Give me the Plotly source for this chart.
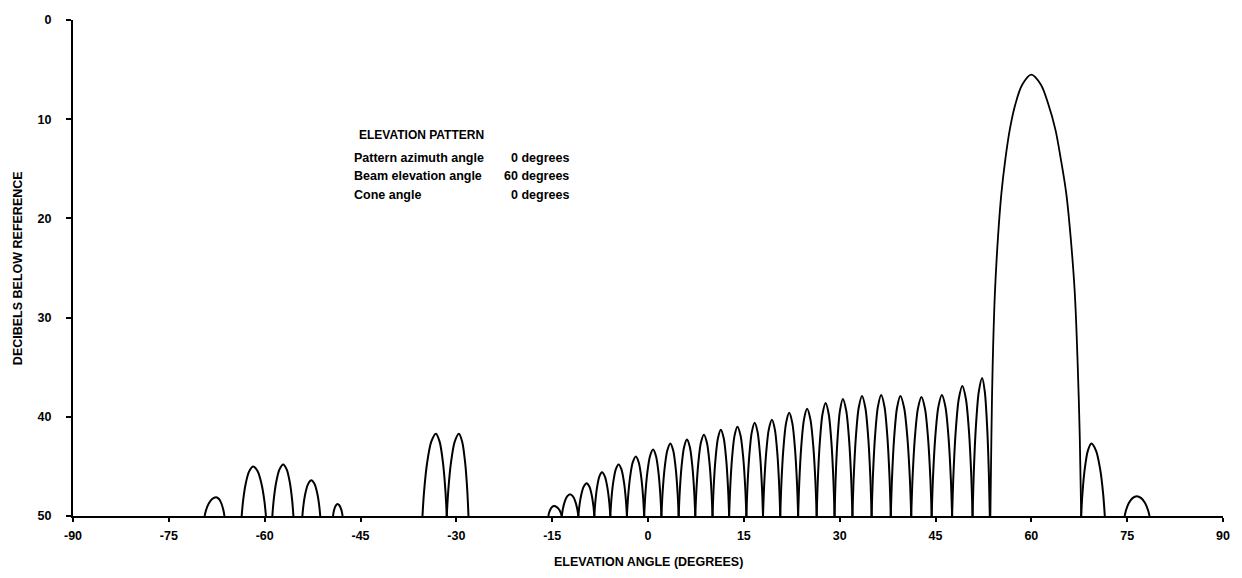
import plotly.graph_objects as go

# ---- data (angle in degrees, level in dB below reference) ----
# isolated side lobes: left null, peak angle, peak level, right null
iso_left = [-69.4, -63.6, -58.8, -54.1, -49.3, -35.3, -31.5, 67.8, 74.6]
iso_peak_angle = [-67.6, -61.8, -57.1, -52.7, -48.6, -33.2, -29.6, 69.4, 76.5]
iso_peak_db = [48.1, 45.0, 44.8, 46.4, 48.8, 41.7, 41.7, 42.7, 48.0]
iso_right = [-66.3, -59.8, -55.5, -51.3, -47.8, -31.5, -28.1, 71.5, 78.5]

# contiguous grating of side lobes between -15 and 54 degrees
dense_nulls = [-15.6, -13.5, -10.9, -8.4, -5.9, -3.3, -0.6, 2.1, 4.8, 7.4, 10.1,
               12.7, 15.4, 18.0, 20.7, 23.5, 26.4, 29.2, 32.0, 35.0, 38.0, 41.2,
               44.4, 47.6, 50.8, 53.5]
dense_peak_angle = [-14.7, -12.2, -9.6, -7.2, -4.6, -1.9, 0.8, 3.5, 6.1, 8.75, 11.4,
                    14.0, 16.7, 19.4, 22.1, 24.9, 27.8, 30.5, 33.5, 36.5, 39.5, 42.8,
                    46.0, 49.2, 52.3]
dense_peak_db = [49.0, 47.8, 46.7, 45.6, 44.8, 44.0, 43.3, 42.7, 42.3, 41.8, 41.3,
                 41.0, 40.6, 40.3, 39.6, 39.2, 38.6, 38.2, 37.9, 37.8, 37.9, 38.0,
                 37.8, 36.9, 36.1]

# main beam outline
main_angle = [53.59, 53.75, 53.94, 54.30, 54.77, 55.31, 55.94, 56.64, 57.50, 58.59, 60.0,
              61.48, 62.66, 63.75, 64.61, 65.47, 66.17, 66.80, 67.27, 67.58, 67.81]
main_db = [50.0, 42.0, 35.0, 27.5, 22.0, 17.5, 14.0, 11.0, 8.5, 6.5, 5.5,
           6.5, 8.5, 11.0, 14.0, 17.5, 22.0, 27.5, 35.0, 42.0, 50.0]

# arch outline of one side lobe half (null -> peak)
lobe_profile_pos = [0.0, 0.12, 0.35, 0.65, 1.0]   # fraction of null-to-peak distance
lobe_profile_rise = [0.0, 0.30, 0.65, 0.90, 1.0]  # fraction of lobe height

x_ticks = [-90, -75, -60, -45, -30, -15, 0, 15, 30, 45, 60, 75, 90]
y_ticks = [0, 10, 20, 30, 40, 50]

info_labels = ["Pattern azimuth angle", "Beam elevation angle", "Cone angle"]
info_values = ["0 degrees", "60 degrees", "0 degrees"]

FLOOR = 50.0

# ---- build lobe outlines (each lobe is a separate smoothed segment) ----
xs, ys = [], []
lobes = list(zip(iso_left, iso_peak_angle, iso_peak_db, iso_right))
lobes += list(zip(dense_nulls[:-1], dense_peak_angle, dense_peak_db, dense_nulls[1:]))
for l, pa, pd, r in lobes:
    h = FLOOR - pd
    for p, f in zip(lobe_profile_pos, lobe_profile_rise):
        xs.append(l + p * (pa - l))
        ys.append(FLOOR - f * h)
    for p, f in zip(reversed(lobe_profile_pos[:-1]), reversed(lobe_profile_rise[:-1])):
        xs.append(r - p * (r - pa))
        ys.append(FLOOR - f * h)
    xs.append(None)
    ys.append(None)

FONT = "Liberation Sans"
BOLD = dict(family=FONT, color="black", weight="bold")

fig = go.Figure()
fig.add_trace(go.Scatter(x=xs, y=ys, mode="lines",
                         line=dict(color="black", width=2, shape="spline", smoothing=0.8),
                         connectgaps=False, hoverinfo="skip", showlegend=False))
fig.add_trace(go.Scatter(x=main_angle, y=main_db, mode="lines",
                         line=dict(color="black", width=1.8, shape="spline", smoothing=1.0),
                         hoverinfo="skip", showlegend=False))

# info box text
fig.add_annotation(x=-45.6, y=11.6, xref="x", yref="y", text="ELEVATION PATTERN",
                   showarrow=False, xanchor="left", yanchor="middle",
                   font=dict(BOLD, size=12))
row_y = [13.9, 15.7, 17.6]
for lab, val, yy in zip(info_labels, info_values, row_y):
    fig.add_annotation(x=-46.3, y=yy, xref="x", yref="y", text=lab, showarrow=False,
                       xanchor="left", yanchor="middle", font=dict(BOLD, size=12.5))
    fig.add_annotation(x=-12.0, y=yy, xref="x", yref="y", text=val, showarrow=False,
                       xanchor="right", yanchor="middle", font=dict(BOLD, size=12.5))

# axis titles
fig.add_annotation(x=0.5, y=-0.0927, xref="paper", yref="paper",
                   text="ELEVATION ANGLE (DEGREES)", showarrow=False,
                   xanchor="center", yanchor="middle", font=dict(BOLD, size=12.5))
fig.add_annotation(x=-0.0477, y=0.5, xref="paper", yref="paper",
                   text="DECIBELS BELOW REFERENCE", showarrow=False, textangle=-90,
                   xanchor="center", yanchor="middle", font=dict(BOLD, size=12.5))

fig.update_layout(
    width=1242, height=578,
    margin=dict(l=73, r=16, t=20, b=62),
    paper_bgcolor="white", plot_bgcolor="white",
    showlegend=False,
    font=dict(family=FONT, color="black"),
)
fig.update_xaxes(range=[-90, 90], tickvals=x_ticks, ticktext=[str(v) for v in x_ticks],
                 showgrid=False, zeroline=False, showline=True, linecolor="black", linewidth=2,
                 ticks="outside", ticklen=4, tickwidth=2, tickcolor="black",
                 ticklabelstandoff=3, tickfont=dict(BOLD, size=12.5))
fig.update_yaxes(range=[50, 0], tickvals=y_ticks, ticktext=[str(v) for v in y_ticks],
                 showgrid=False, zeroline=False, showline=True, linecolor="black", linewidth=2,
                 ticks="outside", ticklen=5, tickwidth=2, tickcolor="black",
                 ticklabelstandoff=12, tickfont=dict(BOLD, size=12.5))

fig.write_html("out.html")
